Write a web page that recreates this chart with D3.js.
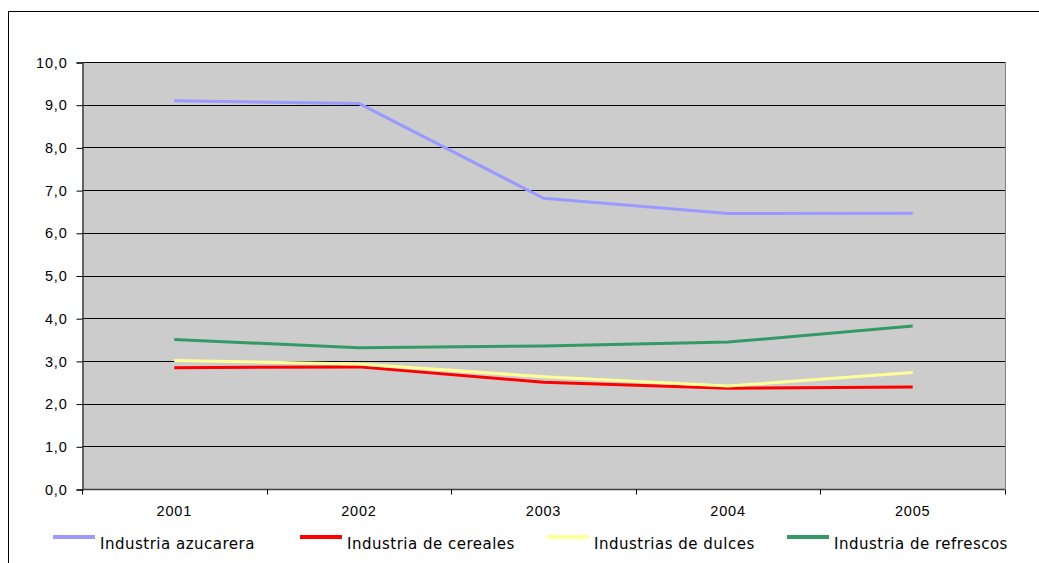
<!DOCTYPE html>
<html>
<head>
<meta charset="utf-8">
<script src="https://cdn.jsdelivr.net/npm/d3@7"></script>
<style>
  html, body { margin: 0; padding: 0; background: #fff; }
  svg { display: block; }
</style>
</head>
<body>
<svg id="chart" width="1039" height="563"></svg>
<script>
// Years on the category axis
const years = ["2001", "2002", "2003", "2004", "2005"];

// Series values per year
const azucarera = [9.09, 9.03, 6.81, 6.45, 6.46];
const cereales  = [2.84, 2.86, 2.50, 2.36, 2.39];
const dulces    = [3.01, 2.93, 2.63, 2.41, 2.73];
const refrescos = [3.50, 3.31, 3.35, 3.44, 3.82];

const seriesNames  = ["Industria azucarera", "Industria de cereales", "Industrias de dulces", "Industria de refrescos"];
const seriesColors = ["#9999ff", "#ff0000", "#ffff99", "#339966"];

// Y axis ticks
const yTicks = [0, 1, 2, 3, 4, 5, 6, 7, 8, 9, 10];

const series = [azucarera, cereales, dulces, refrescos].map((values, i) => ({
  name: seriesNames[i], color: seriesColors[i], values
}));

const axisFont = "'Liberation Sans', Arial, sans-serif";
const legendFont = "'DejaVu Sans', Verdana, sans-serif";

const svg = d3.select("#chart");
const plot = { left: 82, right: 1005, top: 62, bottom: 489 };

// Outer chart frame
svg.append("rect")
  .attr("x", 8.5).attr("y", 11.5)
  .attr("width", 1100).attr("height", 600)
  .attr("fill", "#fff").attr("stroke", "#000").attr("stroke-width", 1);

const x = d3.scaleBand().domain(years).range([plot.left, plot.right]);
const y = d3.scaleLinear().domain([0, 10]).range([plot.bottom, plot.top]);

// Plot background
svg.append("rect")
  .attr("x", plot.left).attr("y", plot.top)
  .attr("width", plot.right - plot.left).attr("height", plot.bottom - plot.top)
  .attr("fill", "#cccccc");

// Horizontal gridlines
svg.append("g").selectAll("line").data(yTicks.filter(d => d > 0)).join("line")
  .attr("x1", plot.left).attr("x2", plot.right)
  .attr("y1", d => Math.round(y(d)) + 0.5).attr("y2", d => Math.round(y(d)) + 0.5)
  .attr("stroke", "#000").attr("stroke-width", 1);

// Right border of plot area
svg.append("line")
  .attr("x1", plot.right + 0.5).attr("x2", plot.right + 0.5)
  .attr("y1", plot.top).attr("y2", plot.bottom)
  .attr("stroke", "#808080").attr("stroke-width", 1);

// Y axis
const yAxis = d3.axisLeft(y).tickValues(yTicks).tickSize(6).tickPadding(9)
  .tickFormat(d => d3.format(".1f")(d).replace(".", ","));
const gy = svg.append("g")
  .attr("transform", `translate(${plot.left + 0.5},0.5)`)
  .call(yAxis);
gy.select(".domain").attr("stroke", "#404040").attr("stroke-width", 1.5);
gy.selectAll(".tick line").attr("stroke", "#000");
gy.selectAll("text").attr("font-family", axisFont)
  .attr("font-size", 14.5).attr("letter-spacing", 0.8).attr("fill", "#000");

// X axis with ticks at category boundaries
const gx = svg.append("g").attr("transform", `translate(0,${plot.bottom + 0.5})`);
gx.append("line")
  .attr("x1", plot.left).attr("x2", plot.right)
  .attr("stroke", "#404040").attr("stroke-width", 1.5);
const boundaries = years.map(d => x(d)).concat([x(years[years.length - 1]) + x.bandwidth()]);
gx.selectAll("line.tk").data(boundaries).join("line").attr("class", "tk")
  .attr("x1", d => Math.round(d) + 0.5).attr("x2", d => Math.round(d) + 0.5)
  .attr("y1", 0).attr("y2", 5)
  .attr("stroke", "#000");
gx.selectAll("text").data(years).join("text")
  .attr("x", d => x(d) + x.bandwidth() / 2)
  .attr("y", 26)
  .attr("text-anchor", "middle")
  .attr("font-family", axisFont)
  .attr("font-size", 14.5)
  .attr("letter-spacing", 0.8)
  .text(d => d);

// Series lines
const line = d3.line()
  .x((d, i) => x(years[i]) + x.bandwidth() / 2)
  .y(d => y(d));

svg.append("g").selectAll("path").data(series).join("path")
  .attr("d", d => line(d.values))
  .attr("fill", "none")
  .attr("stroke", d => d.color)
  .attr("stroke-width", 3)
  .attr("stroke-linejoin", "round");

// Legend
const legendX = [53, 300, 547, 787];
const lg = svg.append("g").selectAll("g").data(series).join("g")
  .attr("transform", (d, i) => `translate(${legendX[i]},537)`);
lg.append("line")
  .attr("x1", 0).attr("x2", 42)
  .attr("y1", 0).attr("y2", 0)
  .attr("stroke", d => d.color).attr("stroke-width", 4);
lg.append("text")
  .attr("x", 47).attr("y", 12)
  .attr("font-family", legendFont)
  .attr("font-size", 15)
  .attr("letter-spacing", 0.5)
  .text(d => d.name);
</script>
</body>
</html>
